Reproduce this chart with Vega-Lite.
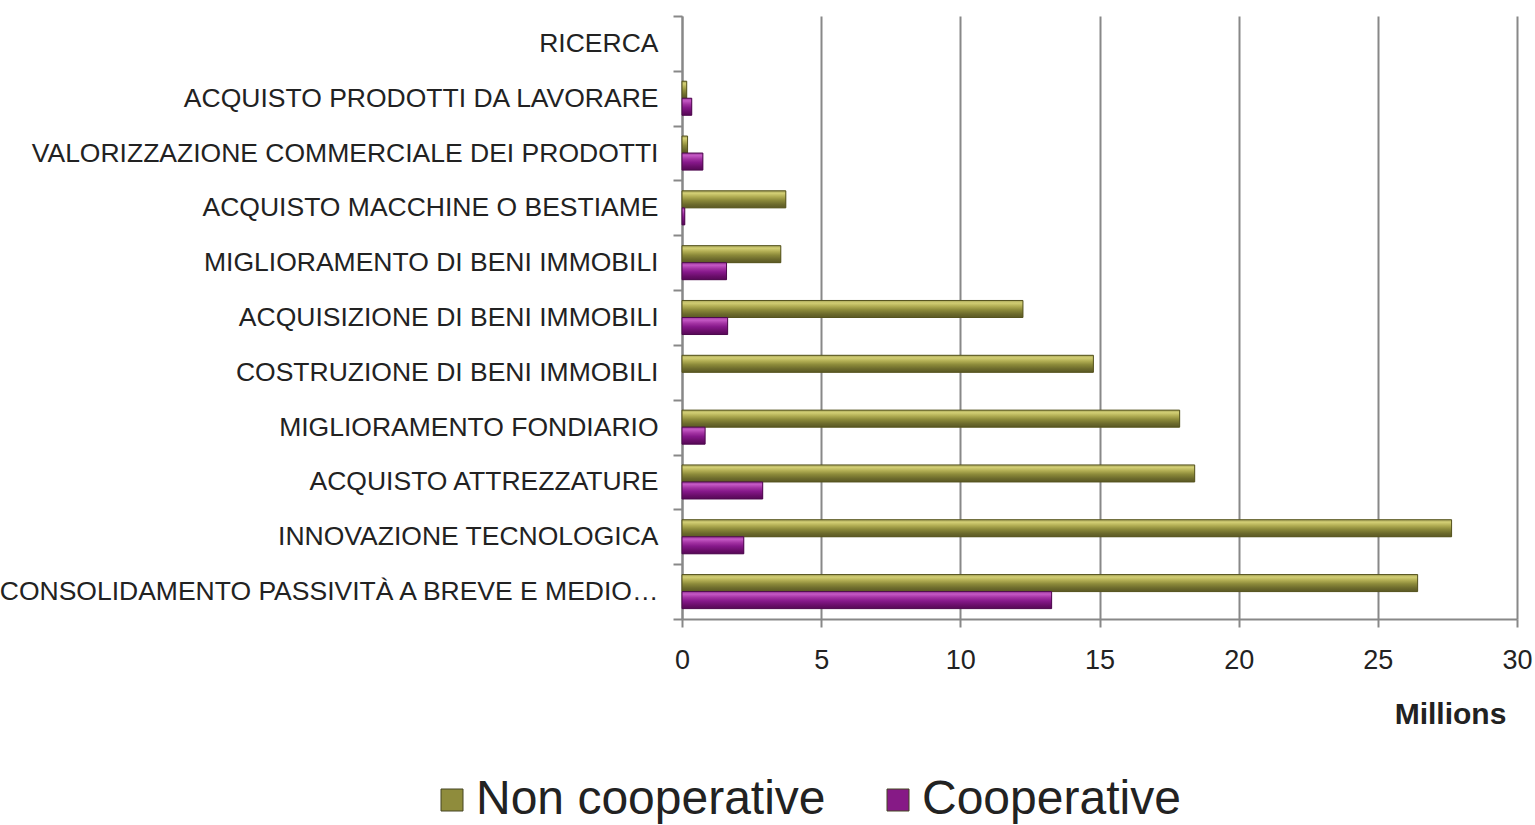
{
  "$schema": "https://vega.github.io/schema/vega-lite/v6.json",
  "width": 835,
  "height": 603,
  "autosize": "none",
  "padding": {"left": 682, "top": 16, "right": 18, "bottom": 206},
  "background": "white",
  "config": {
    "view": {"stroke": null},
    "font": "Liberation Sans"
  },
  "data": {
    "values": [
      {"category": "RICERCA", "series": "Non cooperative", "value": 0},
      {"category": "RICERCA", "series": "Cooperative", "value": 0},
      {"category": "ACQUISTO PRODOTTI DA LAVORARE", "series": "Non cooperative", "value": 0.17},
      {"category": "ACQUISTO PRODOTTI DA LAVORARE", "series": "Cooperative", "value": 0.35},
      {"category": "VALORIZZAZIONE COMMERCIALE DEI PRODOTTI", "series": "Non cooperative", "value": 0.2},
      {"category": "VALORIZZAZIONE COMMERCIALE DEI PRODOTTI", "series": "Cooperative", "value": 0.75},
      {"category": "ACQUISTO MACCHINE O BESTIAME", "series": "Non cooperative", "value": 3.73},
      {"category": "ACQUISTO MACCHINE O BESTIAME", "series": "Cooperative", "value": 0.1},
      {"category": "MIGLIORAMENTO DI BENI IMMOBILI", "series": "Non cooperative", "value": 3.55},
      {"category": "MIGLIORAMENTO DI BENI IMMOBILI", "series": "Cooperative", "value": 1.6},
      {"category": "ACQUISIZIONE DI BENI IMMOBILI", "series": "Non cooperative", "value": 12.25},
      {"category": "ACQUISIZIONE DI BENI IMMOBILI", "series": "Cooperative", "value": 1.64},
      {"category": "COSTRUZIONE DI BENI IMMOBILI", "series": "Non cooperative", "value": 14.78},
      {"category": "COSTRUZIONE DI BENI IMMOBILI", "series": "Cooperative", "value": 0},
      {"category": "MIGLIORAMENTO FONDIARIO", "series": "Non cooperative", "value": 17.88},
      {"category": "MIGLIORAMENTO FONDIARIO", "series": "Cooperative", "value": 0.83},
      {"category": "ACQUISTO ATTREZZATURE", "series": "Non cooperative", "value": 18.42},
      {"category": "ACQUISTO ATTREZZATURE", "series": "Cooperative", "value": 2.9},
      {"category": "INNOVAZIONE TECNOLOGICA", "series": "Non cooperative", "value": 27.65},
      {"category": "INNOVAZIONE TECNOLOGICA", "series": "Cooperative", "value": 2.22},
      {"category": "CONSOLIDAMENTO PASSIVITÀ A BREVE E MEDIO…", "series": "Non cooperative", "value": 26.43},
      {"category": "CONSOLIDAMENTO PASSIVITÀ A BREVE E MEDIO…", "series": "Cooperative", "value": 13.28}
    ]
  },
  "encoding": {
    "y": {
      "field": "category",
      "type": "nominal",
      "sort": null,
      "scale": {"paddingInner": 0, "paddingOuter": 0},
      "axis": {
        "title": null,
        "tickBand": "extent",
        "domainColor": "#888888",
        "domainWidth": 2,
        "tickColor": "#888888",
        "tickWidth": 2,
        "tickSize": 9,
        "labelFont": "Liberation Sans",
        "labelFontSize": 26.5,
        "labelColor": "#222222",
        "labelPadding": 15,
        "labelLimit": 700,
        "grid": false
      }
    },
    "yOffset": {
      "field": "series",
      "sort": ["Non cooperative", "Cooperative"],
      "scale": {"paddingInner": 0, "paddingOuter": 0.61}
    },
    "x": {
      "field": "value",
      "type": "quantitative",
      "scale": {"domain": [0, 30], "nice": false},
      "axis": {
        "values": [0, 5, 10, 15, 20, 25, 30],
        "grid": true,
        "gridColor": "#888888",
        "gridWidth": 2,
        "domainColor": "#888888",
        "domainWidth": 2,
        "tickColor": "#888888",
        "tickWidth": 2,
        "tickSize": 8,
        "labelFlush": false,
        "labelFont": "Liberation Sans",
        "labelFontSize": 27,
        "labelColor": "#222222",
        "labelPadding": 20,
        "title": "Millions",
        "titleFont": "Liberation Sans",
        "titleFontSize": 30,
        "titleFontWeight": "bold",
        "titleColor": "#222222",
        "titleX": 768,
        "titleY": 104,
        "titleAlign": "center",
        "titleBaseline": "alphabetic"
      }
    }
  },
  "layer": [
    {
      "mark": {"type": "bar", "stroke": null},
      "encoding": {
        "color": {
          "field": "series",
          "type": "nominal",
          "sort": ["Non cooperative", "Cooperative"],
          "scale": {"domain": ["Non cooperative", "Cooperative"], "range": ["#8f8c3c", "#861a86"]},
          "legend": {
            "title": null,
            "orient": "none",
            "direction": "horizontal",
            "legendX": -254,
            "legendY": 760,
            "symbolType": "square",
            "symbolSize": 484,
            "symbolStrokeColor": "#444422",
            "symbolStrokeWidth": 1,
            "labelFont": "Liberation Sans",
            "labelFontSize": 48,
            "labelColor": "#222222",
            "labelOffset": 0,
            "columnPadding": 48,
            "labelLimit": 600
          }
        }
      }
    },
    {
      "transform": [{"filter": "datum.series === 'Non cooperative' && datum.value > 0"}],
      "mark": {
        "type": "bar",
        "stroke": "#55531f",
        "strokeWidth": 1,
        "fill": {
          "gradient": "linear",
          "x1": 0, "y1": 0, "x2": 0, "y2": 1,
          "stops": [
            {"offset": 0, "color": "#a9a65a"},
            {"offset": 0.15, "color": "#d2ce74"},
            {"offset": 0.35, "color": "#b0ac52"},
            {"offset": 0.55, "color": "#8c8a3a"},
            {"offset": 0.8, "color": "#6c6a2c"},
            {"offset": 1, "color": "#5a5824"}
          ]
        }
      }
    },
    {
      "transform": [{"filter": "datum.series === 'Cooperative' && datum.value > 0"}],
      "mark": {
        "type": "bar",
        "stroke": "#4e0a4e",
        "strokeWidth": 1,
        "fill": {
          "gradient": "linear",
          "x1": 0, "y1": 0, "x2": 0, "y2": 1,
          "stops": [
            {"offset": 0, "color": "#a03ca0"},
            {"offset": 0.15, "color": "#c458c4"},
            {"offset": 0.35, "color": "#a232a2"},
            {"offset": 0.55, "color": "#86188a"},
            {"offset": 0.8, "color": "#6a0e6a"},
            {"offset": 1, "color": "#560856"}
          ]
        }
      }
    }
  ]
}
